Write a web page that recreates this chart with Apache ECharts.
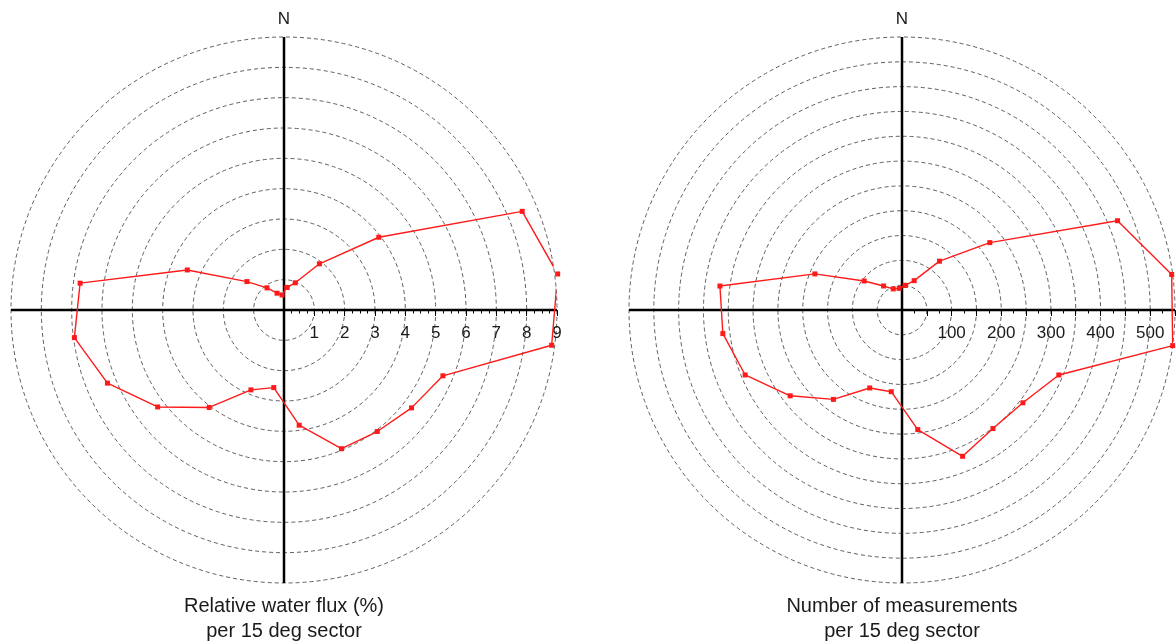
<!DOCTYPE html>
<html><head><meta charset="utf-8">
<script src="https://cdn.jsdelivr.net/npm/echarts@6/dist/echarts.min.js"></script>
<style>html,body{margin:0;padding:0;background:#fff}#c{width:1176px;height:644px}</style>
</head><body><div id="c"></div>
<script>
// compass direction (deg, clockwise from N) of each 15-degree sector centre
const sectorAngles = [7.5, 22.5, 37.5, 52.5, 67.5, 82.5, 97.5, 112.5, 127.5, 142.5, 157.5, 172.5,
  187.5, 202.5, 217.5, 232.5, 247.5, 262.5, 277.5, 292.5, 307.5, 322.5, 337.5, 352.5];
// relative water flux (%) per sector
const fluxValues = [0.75, 0.97, 1.92, 3.94, 8.5, 9.1, 8.9, 5.67, 5.3, 5.05, 4.95, 3.83,
  2.58, 2.85, 4.05, 5.25, 6.3, 6.97, 6.78, 3.45, 1.54, 0.92, 0.6, 0.5];
// number of measurements per sector
const countValues = [50, 64, 124, 223, 470, 548, 550, 342, 307, 301, 319, 243,
  166, 170, 227, 284, 342, 364, 370, 190, 96, 61, 46, 44];
const fluxTickLabels = ['1', '2', '3', '4', '5', '6', '7', '8', '9'];
const countTickLabels = ['100', '200', '300', '400', '500'];
const fluxCaption = ['Relative water flux (%)', 'per 15 deg sector'];
const countCaption = ['Number of measurements', 'per 15 deg sector'];

const FONT = '"Liberation Sans", Arial, Helvetica, sans-serif';
const RAD = 273;
const CENTERS = [[284, 310], [902, 310]];

// compass angle -> angle-axis value (axis starts at East, runs clockwise)
function toAxisAngle(a) { return (a + 270) % 360; }
function closed(vals) {
  const d = vals.map((v, i) => [v, toAxisAngle(sectorAngles[i])]);
  d.push(d[0]);
  return d;
}
function angleAxis(idx) {
  return {
    polarIndex: idx, type: 'value', min: 0, max: 360, interval: 90,
    startAngle: 0, clockwise: true,
    axisLine: { show: false }, axisTick: { show: false }, axisLabel: { show: false },
    splitLine: { show: true, lineStyle: { color: '#000', width: 2.5 } },
    z: 2
  };
}
function radiusAxis(idx, max, interval, minorSplit, labels) {
  return {
    polarIndex: idx, type: 'value', min: 0, max: max, interval: interval,
    axisLine: { show: false },
    axisTick: { show: true, length: -6, lineStyle: { color: '#000', width: 1 } },
    minorTick: { show: true, splitNumber: minorSplit, length: -3.5, lineStyle: { color: '#000', width: 1 } },
    splitLine: { show: true, lineStyle: { color: '#5e5e5e', width: 1, type: [4, 3] } },
    minorSplitLine: { show: false },
    axisLabel: {
      show: true, margin: -23, verticalAlign: 'middle', color: '#1a1a1a', fontSize: 17, fontFamily: FONT,
      showMinLabel: true, showMaxLabel: true, hideOverlap: false,
      formatter: function (v) { const s = String(v); return labels.indexOf(s) >= 0 ? s : ''; }
    },
    z: 1
  };
}
function series(idx, vals) {
  return {
    type: 'line', coordinateSystem: 'polar', polarIndex: idx, data: closed(vals),
    symbol: 'rect', symbolSize: 5, clip: false, silent: true,
    lineStyle: { color: '#ff1a1a', width: 1.4 }, itemStyle: { color: '#ff1a1a' }, z: 5
  };
}
function texts(cx, caption) {
  return [
    { type: 'text', x: cx, y: 19, style: { text: 'N', fill: '#1a1a1a', font: '17px ' + FONT, align: 'center', verticalAlign: 'middle' } },
    { type: 'text', x: cx, y: 606, style: { text: caption[0], fill: '#1a1a1a', font: '20px ' + FONT, align: 'center', verticalAlign: 'middle' } },
    { type: 'text', x: cx, y: 631, style: { text: caption[1], fill: '#1a1a1a', font: '20px ' + FONT, align: 'center', verticalAlign: 'middle' } }
  ];
}

const chart = echarts.init(document.getElementById('c'), null, { renderer: 'canvas' });
chart.setOption({
  animation: false,
  backgroundColor: '#fff',
  polar: [{ center: CENTERS[0], radius: RAD }, { center: CENTERS[1], radius: RAD }],
  angleAxis: [angleAxis(0), angleAxis(1)],
  radiusAxis: [radiusAxis(0, 9, 1, 4, fluxTickLabels), radiusAxis(1, 550, 50, 2, countTickLabels)],
  series: [series(0, fluxValues), series(1, countValues)],
  graphic: texts(CENTERS[0][0], fluxCaption).concat(texts(CENTERS[1][0], countCaption))
});
</script></body></html>
